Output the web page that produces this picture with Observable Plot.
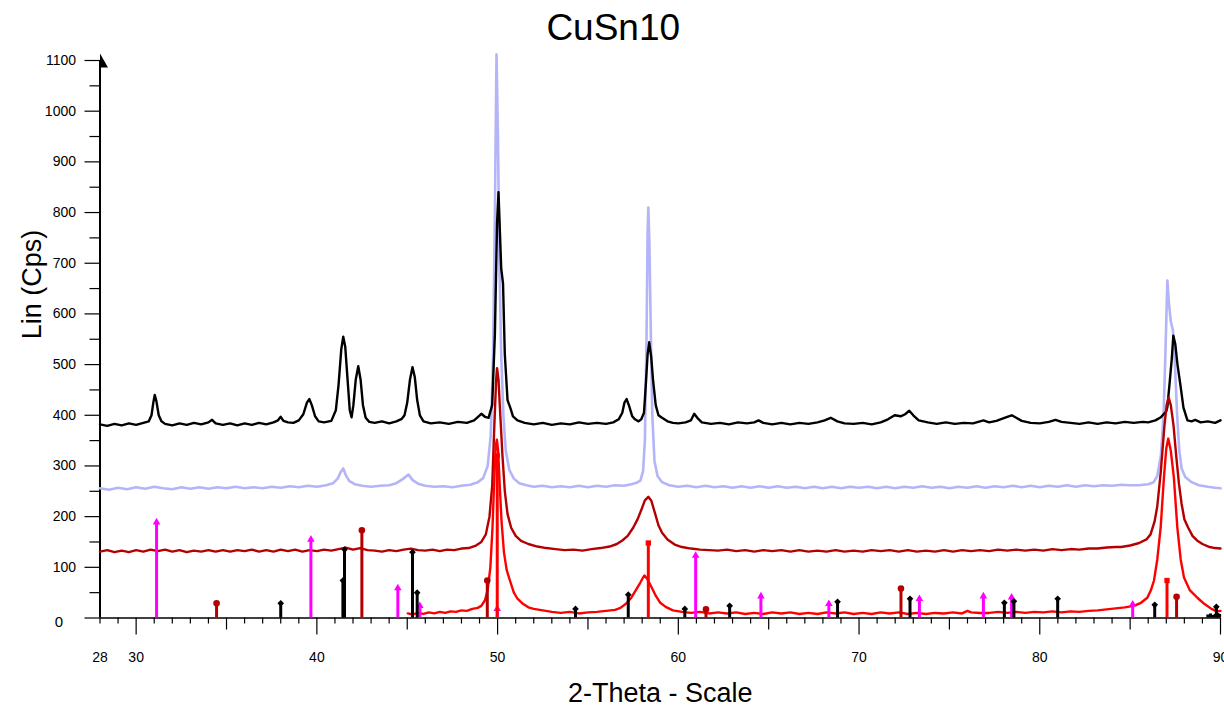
<!DOCTYPE html>
<html>
<head>
<meta charset="utf-8">
<script src="https://cdn.jsdelivr.net/npm/d3@7"></script>
<script src="https://cdn.jsdelivr.net/npm/@observablehq/plot@0.6"></script>
<style>
  html, body { margin: 0; padding: 0; background: #ffffff; }
  #chart { width: 1224px; height: 709px; overflow: hidden; }
</style>
</head>
<body>
<div id="chart"></div>
<script>
// ---- Data (2-Theta, Lin counts) ----
const titleText = "CuSn10";
const xLabelText = "2-Theta - Scale";
const yLabelText = "Lin (Cps)";

const xLabelTicks = [28, 30, 40, 50, 60, 70, 80, 90];
const xMajorTicks = [30, 40, 50, 60, 70, 80, 90];
const xMediumTicks = [35, 45, 55, 65, 75, 85];
const xMinorTicks = [28,29,31,32,33,34,36,37,38,39,41,42,43,44,46,47,48,49,51,52,53,54,56,57,58,59,61,62,63,64,66,67,68,69,71,72,73,74,76,77,78,79,81,82,83,84,86,87,88,89];
const yMajorTicks = [0, 100, 200, 300, 400, 500, 600, 700, 800, 900, 1000, 1100];
const yMinorTicks = [50, 150, 250, 350, 450, 550, 650, 750, 850, 950, 1050];

// light blue (lavender) scan
const blueTrace = [[28.0,256],[28.5,253],[29.0,257],[29.5,254],[30.0,258],[30.5,255],[31.0,259],[31.5,256],[32.0,254],[32.5,258],[33.0,255],[33.5,258],[34.0,255],[34.5,258],[35.0,256],[35.5,259],[36.0,256],[36.5,258],[37.0,256],[37.5,259],[38.0,257],[38.5,260],[39.0,258],[39.5,261],[40.0,259],[40.5,262],[40.9,266],[41.15,275],[41.32,288],[41.46,295],[41.6,282],[41.8,270],[42.1,264],[42.5,261],[43.0,259],[43.5,261],[44.0,262],[44.4,266],[44.75,274],[45.07,283],[45.3,272],[45.6,265],[46.0,261],[46.5,259],[47.0,260],[47.5,258],[48.0,261],[48.5,263],[48.9,268],[49.2,276],[49.45,300],[49.62,360],[49.75,520],[49.85,800],[49.94,1112],[50.02,950],[50.1,700],[50.2,520],[50.32,400],[50.45,330],[50.65,292],[50.9,275],[51.2,266],[51.6,262],[52.0,259],[52.5,261],[53.0,258],[53.5,260],[54.0,258],[54.5,261],[55.0,258],[55.5,261],[56.0,259],[56.5,262],[57.0,261],[57.4,264],[57.7,267],[57.9,271],[58.05,290],[58.15,350],[58.24,550],[58.3,760],[58.34,810],[58.4,740],[58.48,560],[58.56,400],[58.68,310],[58.85,280],[59.1,268],[59.5,262],[60.0,259],[60.5,261],[61.0,258],[61.5,261],[62.0,258],[62.5,260],[63.0,257],[63.5,260],[64.0,257],[64.5,260],[65.0,257],[65.5,260],[66.0,257],[66.5,259],[67.0,256],[67.5,259],[68.0,256],[68.5,259],[69.0,256],[69.5,259],[70.0,257],[70.5,259],[71.0,256],[71.5,259],[72.0,256],[72.5,259],[73.0,257],[73.5,260],[74.0,257],[74.5,259],[75.0,256],[75.5,259],[76.0,257],[76.5,260],[77.0,257],[77.5,260],[78.0,258],[78.5,261],[79.0,258],[79.5,261],[80.0,258],[80.5,261],[81.0,259],[81.5,262],[82.0,259],[82.5,262],[83.0,260],[83.5,262],[84.0,261],[84.5,263],[85.0,262],[85.5,262],[86.0,264],[86.3,268],[86.5,280],[86.7,320],[86.85,400],[86.95,520],[87.06,666],[87.15,620],[87.25,585],[87.37,567],[87.48,500],[87.6,400],[87.72,330],[87.85,295],[88.05,278],[88.4,268],[88.8,262],[89.3,259],[89.7,257],[90.0,256]];

// black scan
const blackTrace = [[28.0,382],[28.4,379],[28.8,383],[29.2,380],[29.6,384],[30.0,381],[30.4,385],[30.7,388],[30.85,400],[30.95,425],[31.03,440],[31.12,428],[31.25,400],[31.4,388],[31.6,383],[32.0,380],[32.4,384],[32.8,381],[33.2,385],[33.6,382],[34.0,386],[34.2,391],[34.4,384],[34.8,381],[35.2,384],[35.6,380],[36.0,384],[36.4,381],[36.8,385],[37.2,382],[37.6,386],[37.85,390],[38.0,397],[38.15,389],[38.4,386],[38.7,385],[39.0,390],[39.25,402],[39.45,425],[39.58,432],[39.72,420],[39.9,398],[40.1,388],[40.4,386],[40.8,389],[41.05,410],[41.2,460],[41.35,530],[41.46,555],[41.57,535],[41.7,470],[41.82,410],[41.92,396],[42.02,420],[42.15,470],[42.29,497],[42.42,470],[42.55,420],[42.7,395],[42.9,387],[43.2,385],[43.6,388],[44.0,384],[44.4,388],[44.7,393],[44.85,400],[45.0,425],[45.15,470],[45.29,495],[45.42,475],[45.55,430],[45.7,400],[45.9,388],[46.3,384],[46.8,386],[47.3,383],[47.8,387],[48.3,385],[48.7,390],[48.95,398],[49.1,403],[49.3,397],[49.5,395],[49.7,420],[49.85,560],[49.97,780],[50.05,840],[50.13,760],[50.2,690],[50.3,660],[50.4,520],[50.55,430],[50.72,413],[50.85,398],[51.1,390],[51.5,385],[52.0,382],[52.5,385],[53.0,381],[53.5,384],[54.0,382],[54.5,386],[55.0,383],[55.5,385],[56.0,383],[56.4,386],[56.7,392],[56.9,405],[57.02,425],[57.14,432],[57.28,418],[57.45,398],[57.6,392],[57.8,388],[57.95,392],[58.1,405],[58.2,460],[58.3,520],[58.39,544],[58.5,515],[58.6,470],[58.75,420],[58.9,400],[59.1,395],[59.4,388],[59.7,385],[60.0,384],[60.4,386],[60.7,390],[60.88,403],[61.05,395],[61.3,386],[61.8,383],[62.3,385],[62.8,382],[63.3,386],[63.8,384],[64.2,386],[64.44,390],[64.7,385],[65.2,382],[65.7,385],[66.2,382],[66.7,385],[67.2,383],[67.7,386],[68.1,390],[68.43,395],[68.8,388],[69.2,384],[69.7,383],[70.2,385],[70.7,382],[71.2,386],[71.6,392],[71.97,400],[72.3,398],[72.55,402],[72.78,409],[73.0,400],[73.3,390],[73.8,386],[74.3,383],[74.8,386],[75.3,383],[75.8,385],[76.3,384],[76.6,387],[76.88,390],[77.2,386],[77.6,389],[77.9,393],[78.2,397],[78.45,400],[78.7,395],[79.0,389],[79.5,385],[80.0,384],[80.5,387],[80.87,391],[81.2,387],[81.7,385],[82.2,383],[82.7,386],[83.2,383],[83.7,386],[84.2,384],[84.7,387],[85.2,385],[85.7,387],[86.0,386],[86.4,390],[86.7,396],[86.85,402],[87.0,408],[87.06,416],[87.2,470],[87.3,510],[87.39,557],[87.5,540],[87.62,500],[87.8,455],[87.95,415],[88.17,390],[88.4,388],[88.6,391],[88.9,386],[89.3,388],[89.7,385],[90.0,390]];

// dark red scan
const darkRedTrace = [[28.0,131],[28.4,134],[28.8,130],[29.2,133],[29.6,130],[30.0,134],[30.4,131],[30.8,135],[31.2,132],[31.6,135],[32.0,131],[32.4,134],[32.8,130],[33.2,133],[33.6,131],[34.0,134],[34.4,131],[34.8,134],[35.2,131],[35.6,134],[36.0,132],[36.4,135],[36.8,131],[37.2,134],[37.6,131],[38.0,135],[38.4,132],[38.8,135],[39.2,131],[39.6,134],[40.0,132],[40.4,135],[40.8,133],[41.2,136],[41.6,139],[42.0,135],[42.4,138],[42.8,134],[43.2,133],[43.6,131],[44.0,134],[44.4,132],[44.8,135],[45.2,137],[45.6,134],[46.0,133],[46.4,135],[46.8,132],[47.2,135],[47.6,134],[48.0,137],[48.4,138],[48.8,143],[49.1,150],[49.35,165],[49.55,200],[49.7,260],[49.82,380],[49.92,470],[49.97,493],[50.05,470],[50.15,400],[50.27,320],[50.4,250],[50.55,205],[50.75,178],[51.0,162],[51.3,152],[51.7,146],[52.2,141],[52.7,138],[53.2,136],[53.7,134],[54.2,135],[54.7,133],[55.2,136],[55.7,138],[56.2,141],[56.6,146],[56.9,153],[57.2,162],[57.5,178],[57.75,195],[57.95,213],[58.15,232],[58.34,239],[58.5,232],[58.7,208],[58.9,183],[59.1,168],[59.4,155],[59.8,145],[60.2,140],[60.7,137],[61.2,135],[61.7,134],[62.2,133],[62.7,135],[63.2,132],[63.7,134],[64.2,131],[64.7,134],[65.2,132],[65.7,134],[66.2,131],[66.7,134],[67.2,131],[67.7,133],[68.2,131],[68.7,134],[69.2,131],[69.7,133],[70.2,131],[70.7,134],[71.2,132],[71.7,134],[72.2,131],[72.7,134],[73.2,131],[73.7,133],[74.2,131],[74.7,134],[75.2,131],[75.7,134],[76.2,132],[76.7,134],[77.2,132],[77.7,135],[78.2,133],[78.7,135],[79.2,133],[79.7,135],[80.2,133],[80.7,136],[81.2,134],[81.7,136],[82.2,135],[82.7,137],[83.2,137],[83.7,139],[84.2,140],[84.5,140],[85.0,143],[85.5,148],[85.9,155],[86.13,165],[86.35,190],[86.5,220],[86.7,290],[86.9,380],[87.02,420],[87.13,435],[87.25,420],[87.4,380],[87.55,320],[87.7,265],[87.85,225],[88.0,195],[88.2,179],[88.45,162],[88.7,153],[89.0,146],[89.4,140],[89.7,138],[90.0,137]];

// bright red scan
const redTrace = [[45.03,9],[45.3,7],[45.6,10],[45.9,8],[46.2,11],[46.5,9],[46.8,12],[47.1,10],[47.4,13],[47.7,12],[48.0,15],[48.3,14],[48.6,18],[48.9,20],[49.1,24],[49.3,35],[49.45,55],[49.6,100],[49.72,180],[49.82,280],[49.9,340],[49.96,352],[50.03,330],[50.12,260],[50.22,190],[50.35,130],[50.5,95],[50.7,72],[50.9,50],[51.1,38],[51.4,28],[51.7,21],[52.0,18],[52.5,15],[53.0,12],[53.5,10],[54.0,12],[54.5,9],[55.0,11],[55.5,12],[56.0,14],[56.5,16],[56.8,20],[57.1,28],[57.4,40],[57.65,55],[57.9,70],[58.05,80],[58.13,84],[58.3,76],[58.5,62],[58.75,44],[59.0,30],[59.3,22],[59.7,15],[60.2,12],[60.7,10],[61.2,12],[61.7,9],[62.2,11],[62.7,9],[63.2,11],[63.7,8],[64.2,10],[64.7,8],[65.2,11],[65.7,9],[66.2,11],[66.7,8],[67.2,10],[67.7,8],[68.2,11],[68.7,9],[69.2,11],[69.7,8],[70.2,10],[70.7,8],[71.2,11],[71.7,9],[72.2,11],[72.7,8],[73.2,10],[73.7,8],[74.2,10],[74.7,9],[75.2,11],[75.7,9],[76.0,14],[76.2,11],[76.7,10],[77.2,10],[77.7,12],[78.2,10],[78.7,12],[79.2,10],[79.7,12],[80.2,11],[80.7,13],[81.2,11],[81.7,13],[82.2,12],[82.7,14],[83.2,15],[83.7,17],[84.2,19],[84.7,21],[85.2,24],[85.6,30],[85.95,40],[86.15,55],[86.32,74],[86.5,115],[86.69,179],[86.87,277],[87.0,335],[87.11,354],[87.25,330],[87.42,277],[87.61,179],[87.8,115],[87.98,80],[88.3,55],[88.72,40],[89.1,28],[89.5,18],[89.8,13],[90.0,14]];

// reference pattern sticks [2-Theta, height]
const magentaSticks = [[31.13,187],[39.67,153],[44.48,57],[45.7,22],[49.98,16],[60.96,121],[64.57,41],[68.33,26],[73.34,36],[76.88,41],[78.44,39],[85.14,25]];
const darkRedSticks = [[34.45,27],[42.49,171],[49.43,72],[61.53,15],[72.32,56],[87.57,40]];
const blackSticks = [[38.0,27],[41.44,72],[41.53,133],[45.29,128],[45.55,48],[54.31,16],[57.23,44],[60.36,16],[62.84,22],[68.81,30],[72.82,36],[78.04,28],[78.57,31],[80.99,36],[86.36,24],[89.77,20]];
const blackMinorSticks = [[89.3,6],[89.45,8],[89.6,5],[89.7,7],[89.85,9],[89.95,7]];
const redSticks = [[49.98,318],[58.34,146],[87.04,72]];

// ---- Colours ----
const cBlue = "#b4b4f8", cBlack = "#000000", cDark = "#b40000", cRed = "#ff0000", cMag = "#ff00ff";

const X = d => d[0], Y = d => d[1];

// half-arrow head symbol for the top of the y axis
const halfArrow = {
  draw(ctx) {
    ctx.moveTo(0, -7);
    ctx.lineTo(8, 7);
    ctx.lineTo(0, 7);
    ctx.closePath();
  }
};

const sticks = (data, color, symbol, r) => [
  Plot.ruleX(data, {x: X, y1: 0, y2: Y, stroke: color, strokeWidth: 3}),
  Plot.dot(data, {x: X, y: Y, symbol, r, fill: color, stroke: "none", dy: -1})
];

const plot = Plot.plot({
  width: 1224,
  height: 709,
  marginTop: 60,
  marginBottom: 91.5,
  marginLeft: 99.5,
  marginRight: 4,
  x: {domain: [28, 90]},
  y: {domain: [0, 1100]},
  style: {fontFamily: "'Liberation Sans', Arial, Helvetica, sans-serif", background: "#ffffff", color: "#000"},
  marks: [
    // axes
    Plot.axisX({ticks: xMinorTicks, tickSize: 6, tickFormat: () => "", label: null, strokeWidth: 1.2}),
    Plot.axisX({ticks: xMediumTicks, tickSize: 12, tickFormat: () => "", label: null, strokeWidth: 1.2}),
    Plot.axisX({ticks: xMajorTicks, tickSize: 17, tickFormat: () => "", label: null, strokeWidth: 1.2}),
    Plot.axisX({ticks: xLabelTicks, tickSize: 0, tickPadding: 34, fontSize: 14, label: null}),
    Plot.axisY({ticks: yMinorTicks, tickSize: 10, tickFormat: () => "", label: null, strokeWidth: 1.2}),
    Plot.axisY({ticks: yMajorTicks, tickSize: 15, tickPadding: 9, fontSize: 14, label: null, strokeWidth: 1.2,
                tickFormat: d => d === 0 ? "" : String(d)}),
    Plot.text(yMajorTicks.filter(d => d === 0), {x: 28, y: d => d, text: d => String(d), dx: -41, dy: 4, fontSize: 15}),
    Plot.ruleY([0], {x1: 28, x2: 90, strokeWidth: 1.6}),
    Plot.ruleX([28], {y1: 0, y2: 1100, strokeWidth: 2}),
    Plot.dot([1100], {x: 28, y: d => d, symbol: halfArrow, fill: "#000", stroke: "none"}),
    // scans
    Plot.line(blueTrace, {x: X, y: Y, stroke: cBlue, strokeWidth: 2.6}),
    Plot.line(blackTrace, {x: X, y: Y, stroke: cBlack, strokeWidth: 2.4}),
    Plot.line(darkRedTrace, {x: X, y: Y, stroke: cDark, strokeWidth: 2.4}),
    Plot.line(redTrace, {x: X, y: Y, stroke: cRed, strokeWidth: 2.4}),
    // reference patterns
    ...sticks(magentaSticks, cMag, "triangle", 2.8),
    ...sticks(darkRedSticks, cDark, "circle", 3.3),
    ...sticks(blackSticks, cBlack, "diamond2", 3),
    Plot.ruleX(blackMinorSticks, {x: X, y1: 0, y2: Y, stroke: cBlack, strokeWidth: 3}),
    ...sticks(redSticks, cRed, "square", 3),
    // titles
    Plot.text([titleText], {frameAnchor: "top", dx: -47, dy: -32, fontSize: 37, lineAnchor: "middle"}),
    Plot.text([xLabelText], {frameAnchor: "bottom", dx: 0, dy: 75, fontSize: 27, lineAnchor: "middle"}),
    Plot.text([yLabelText], {frameAnchor: "left", dx: -68, dy: 0, rotate: -90, fontSize: 27, lineAnchor: "middle"})
  ]
});

document.getElementById("chart").appendChild(plot);
</script>
</body>
</html>
